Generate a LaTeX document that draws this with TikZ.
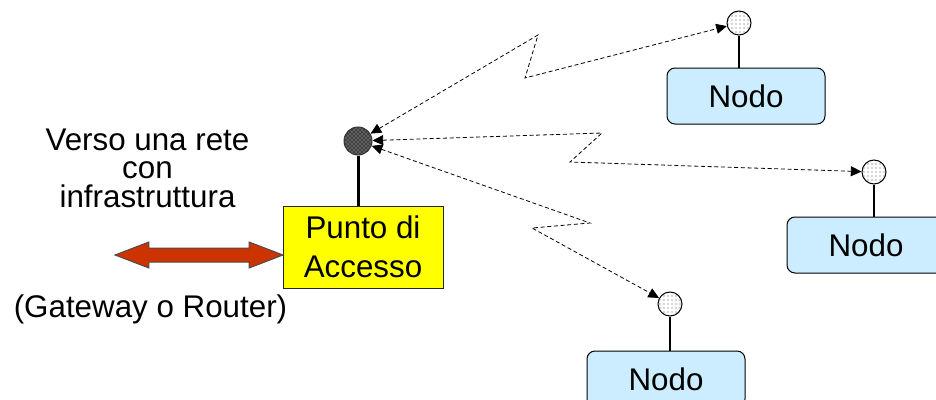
\documentclass[tikz,border=0pt]{standalone}
\usepackage{fontspec}
\setmainfont{Liberation Sans}
\usetikzlibrary{arrows.meta,patterns,shapes.arrows}
\definecolor{apyellow}{RGB}{255,255,0}
\definecolor{nodoblue}{RGB}{204,236,255}
\definecolor{gwred}{RGB}{204,51,0}
\tikzset{every picture/.style={line width=0.75pt}}
\tikzset{
	bigfont/.style={font=\fontsize{23.5}{21.4}\selectfont},
	apbox/.style={draw=black!85, fill=apyellow, minimum width=120pt, minimum height=61.5pt, align=center, inner sep=0pt, font=\fontsize{23.5}{29}\selectfont},
	nodobox/.style={draw=black, fill=nodoblue, rounded corners=6pt, minimum width=118.5pt, minimum height=42pt, inner sep=0pt, font=\fontsize{23.5}{28}\selectfont},
	apant/.style={circle, draw=black!80, minimum size=21pt, inner sep=0pt, preaction={fill=black!75}, pattern=crosshatch dots, pattern color=white!80!black},
	nodoant/.style={circle, draw=black, minimum size=18pt, inner sep=0pt, preaction={fill=white}, pattern=dots, pattern color=black!70},
	radio/.style={dash pattern=on 3pt off 2pt, line width=0.6pt, {Triangle[length=8pt,width=7.5pt]}-{Triangle[length=8pt,width=7.5pt]}},
	gwarrow/.style={double arrow, draw=black!70, fill=gwred, minimum height=126pt, inner xsep=0pt, inner ysep=4.875pt, double arrow head extend=4.5pt, double arrow tip angle=42}
}

\begin{document}
\begin{tikzpicture}[x=0.75pt,y=0.75pt,yscale=-1,xscale=1]
	\useasboundingbox (0,0) rectangle (936,400);

	%Access point and its antenna
	\node[apbox] (ap) at (363,247) {Punto di\\Accesso};
	\node[apant] (apant) at (358,141) {};
	\draw[line width=2.25pt] (apant) -- (apant |- ap.north);

	%Nodes
	\node[nodobox] (n1) at (746,96) {Nodo};
	\node[nodoant] (ant1) at (739,23) {};
	\node[nodobox] (n2) at (866,245) {Nodo};
	\node[nodoant] (ant2) at (874,172) {};
	\node[nodobox] (n3) at (666,379) {Nodo};
	\node[nodoant] (ant3) at (670,304) {};
	\draw[line width=1.1pt] (ant1) -- (ant1 |- n1.north);
	\draw[line width=1.1pt] (ant2) -- (ant2 |- n2.north);
	\draw[line width=1.1pt] (ant3) -- (ant3 |- n3.north);

	%Radio links (zigzag corners)
	\coordinate (z1a) at (538,35);
	\coordinate (z1b) at (525,78);
	\coordinate (z2a) at (602,133);
	\coordinate (z2b) at (570,162);
	\coordinate (z3a) at (590,223);
	\coordinate (z3b) at (532,228);
	\draw[radio] (apant) -- (z1a) -- (z1b) -- (ant1);
	\draw[radio] (apant) -- (z2a) -- (z2b) -- (ant2);
	\draw[radio] (apant) -- (z3a) -- (z3b) -- (ant3);

	%Gateway arrow
	\node[gwarrow] (gw) at (199,255) {};

	% Text Node
	\node[bigfont, align=center] (verso) at (147.5,168) {Verso una rete\\con\\infrastruttura};
	% Text Node
	\node[bigfont, anchor=base] (gwtext) at (150.5,317) {(Gateway o Router)};
\end{tikzpicture}
\end{document}
